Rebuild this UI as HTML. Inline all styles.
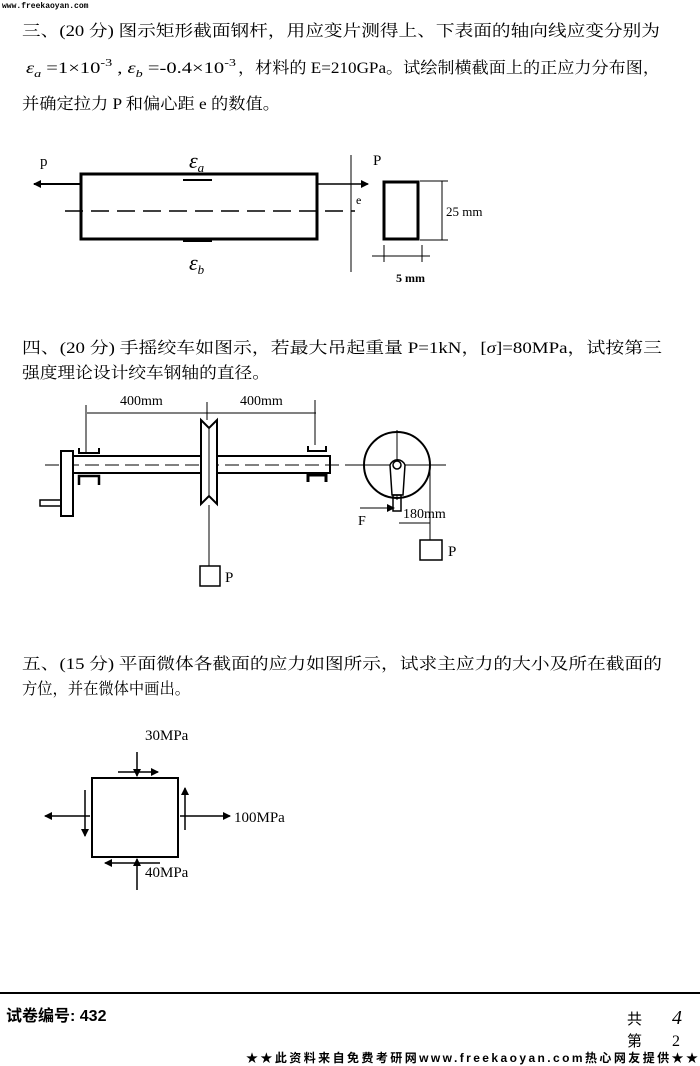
<!DOCTYPE html>
<html><head><meta charset="utf-8"><style>
body{margin:0;background:#fff;}
svg{display:block;font-family:"Liberation Serif","Noto Serif CJK SC",serif;}
.t{font-size:16px;fill:#000;}
</style></head><body>
<svg width="700" height="1066" viewBox="0 0 700 1066" xmlns="http://www.w3.org/2000/svg">
<defs>
<marker id="ar" markerWidth="8" markerHeight="8" refX="7" refY="4" orient="auto" markerUnits="userSpaceOnUse"><path d="M0,0 L8,4 L0,8 z" fill="#000"/></marker>
</defs>
<text x="2" y="8" font-size="8" font-family="Liberation Mono,monospace" font-weight="bold">www.freekaoyan.com</text>
<text class="t" x="22" y="36" textLength="638" lengthAdjust="spacingAndGlyphs">三、(20 分) 图示矩形截面钢杆，用应变片测得上、下表面的轴向线应变分别为</text>
<text class="t" x="26" y="73" font-size="17" textLength="210" lengthAdjust="spacingAndGlyphs"><tspan font-style="italic">ε</tspan><tspan font-size="11" dy="4" font-style="italic">a</tspan><tspan dy="-4"> =1×10</tspan><tspan font-size="11" dy="-7">-3</tspan><tspan dy="7"> , </tspan><tspan font-style="italic">ε</tspan><tspan font-size="11" dy="4" font-style="italic">b</tspan><tspan dy="-4"> =-0.4×10</tspan><tspan font-size="11" dy="-7">-3</tspan></text>
<text class="t" x="238" y="73" textLength="422" lengthAdjust="spacingAndGlyphs">，材料的 E=210GPa。试绘制横截面上的正应力分布图，</text>
<text class="t" x="22" y="109" textLength="258" lengthAdjust="spacingAndGlyphs">并确定拉力 P 和偏心距 e 的数值。</text>

<!-- beam -->
<rect x="81" y="174" width="236" height="65" fill="none" stroke="#000" stroke-width="3"/>
<line x1="65" y1="211" x2="355" y2="211" stroke="#000" stroke-width="1.5" stroke-dasharray="18,8"/>
<line x1="80" y1="184" x2="34" y2="184" stroke="#000" stroke-width="2" marker-end="url(#ar)"/>
<line x1="317" y1="184" x2="368" y2="184" stroke="#000" stroke-width="1.5" marker-end="url(#ar)"/>
<line x1="351" y1="155" x2="351" y2="272" stroke="#000" stroke-width="1"/>
<text x="40" y="166" font-size="15">p</text>
<text x="373" y="165" font-size="15">P</text>
<text x="356" y="204" font-size="12">e</text>
<line x1="183" y1="180" x2="212" y2="180" stroke="#000" stroke-width="2"/>
<line x1="183" y1="241" x2="212" y2="241" stroke="#000" stroke-width="2"/>
<text x="189" y="168" font-size="22" font-style="italic">ε<tspan font-size="13" dy="4">a</tspan></text>
<text x="189" y="270" font-size="22" font-style="italic">ε<tspan font-size="13" dy="4">b</tspan></text>
<rect x="384" y="182" width="34" height="57" fill="none" stroke="#000" stroke-width="3"/>
<line x1="442" y1="181" x2="442" y2="240" stroke="#000" stroke-width="1"/>
<line x1="420" y1="181" x2="448" y2="181" stroke="#000" stroke-width="1"/>
<line x1="420" y1="240" x2="448" y2="240" stroke="#000" stroke-width="1"/>
<text x="446" y="216" font-size="13">25 mm</text>
<line x1="372" y1="256" x2="430" y2="256" stroke="#000" stroke-width="1"/>
<line x1="384" y1="245" x2="384" y2="262" stroke="#000" stroke-width="1"/>
<line x1="422" y1="245" x2="422" y2="262" stroke="#000" stroke-width="1"/>
<text x="396" y="282" font-size="12" font-weight="bold">5 mm</text>

<text class="t" x="22" y="353" textLength="640" lengthAdjust="spacingAndGlyphs">四、(20 分) 手摇绞车如图示，若最大吊起重量 P=1kN，[<tspan font-style="italic">σ</tspan>]=80MPa，试按第三</text>
<text class="t" x="22" y="378" textLength="248" lengthAdjust="spacingAndGlyphs">强度理论设计绞车钢轴的直径。</text>

<!-- winch -->
<text x="120" y="405" font-size="14">400mm</text>
<text x="240" y="405" font-size="14">400mm</text>
<line x1="87" y1="413" x2="316" y2="413" stroke="#000" stroke-width="1"/>
<line x1="86" y1="405" x2="86" y2="452" stroke="#000" stroke-width="1"/>
<line x1="315" y1="400" x2="315" y2="445" stroke="#000" stroke-width="1"/>
<line x1="207" y1="402" x2="207" y2="420" stroke="#000" stroke-width="1"/>
<rect x="72" y="456" width="258" height="17" fill="none" stroke="#000" stroke-width="2"/>
<line x1="45" y1="465" x2="355" y2="465" stroke="#000" stroke-width="1" stroke-dasharray="14,6"/>
<rect x="61" y="451" width="12" height="65" fill="#fff" stroke="#000" stroke-width="2"/>
<rect x="40" y="500" width="21" height="6" fill="none" stroke="#000" stroke-width="1.5"/>
<path d="M79,448 v5 h20 v-5" fill="none" stroke="#000" stroke-width="2"/>
<path d="M79,485 v-9 h20 v9" fill="none" stroke="#000" stroke-width="2.5"/>
<path d="M308,446 v5 h18 v-5" fill="none" stroke="#000" stroke-width="2"/>
<path d="M308,482 v-7 h18 v7" fill="none" stroke="#000" stroke-width="3"/>
<path d="M201,420 L209,428 L217,420 L217,504 L209,496 L201,504 Z" fill="#fff" stroke="#000" stroke-width="2"/>
<line x1="209" y1="428" x2="209" y2="496" stroke="#000" stroke-width="1"/>
<line x1="209" y1="505" x2="209" y2="566" stroke="#000" stroke-width="1"/>
<rect x="200" y="566" width="20" height="20" fill="none" stroke="#000" stroke-width="1.5"/>
<text x="225" y="582" font-size="15">P</text>

<circle cx="397" cy="465" r="33" fill="none" stroke="#000" stroke-width="2"/>
<line x1="350" y1="465" x2="446" y2="465" stroke="#000" stroke-width="1"/>
<line x1="397" y1="430" x2="397" y2="500" stroke="#000" stroke-width="1"/>
<path d="M390,465 a8,8 0 0 1 15,0 L403,495 L392,495 Z" fill="#fff" stroke="#000" stroke-width="1.5"/>
<circle cx="397" cy="465" r="4" fill="none" stroke="#000" stroke-width="1.5"/>
<rect x="393" y="495" width="8" height="16" fill="none" stroke="#000" stroke-width="1.5"/>
<line x1="360" y1="508" x2="394" y2="508" stroke="#000" stroke-width="1" marker-end="url(#ar)"/>
<text x="358" y="525" font-size="14">F</text>
<text x="403" y="518" font-size="14">180mm</text>
<line x1="399" y1="523" x2="430" y2="523" stroke="#000" stroke-width="1"/>
<line x1="430" y1="465" x2="430" y2="540" stroke="#000" stroke-width="1"/>
<rect x="420" y="540" width="22" height="20" fill="none" stroke="#000" stroke-width="1.5"/>
<text x="448" y="556" font-size="15">P</text>

<text class="t" x="22" y="669" textLength="640" lengthAdjust="spacingAndGlyphs">五、(15 分) 平面微体各截面的应力如图所示，试求主应力的大小及所在截面的</text>
<text class="t" x="22" y="694" textLength="168" lengthAdjust="spacingAndGlyphs">方位，并在微体中画出。</text>

<!-- element -->
<rect x="92" y="778" width="86" height="79" fill="none" stroke="#000" stroke-width="2"/>
<text x="145" y="740" font-size="15">30MPa</text>
<line x1="137" y1="752" x2="137" y2="776" stroke="#000" stroke-width="1.5" marker-end="url(#ar)"/>
<line x1="137" y1="890" x2="137" y2="859" stroke="#000" stroke-width="1.5" marker-end="url(#ar)"/>
<line x1="90" y1="816" x2="45" y2="816" stroke="#000" stroke-width="1.5" marker-end="url(#ar)"/>
<line x1="180" y1="816" x2="230" y2="816" stroke="#000" stroke-width="1.5" marker-end="url(#ar)"/>
<text x="234" y="822" font-size="15">100MPa</text>
<line x1="185" y1="830" x2="185" y2="788" stroke="#000" stroke-width="1.5" marker-end="url(#ar)"/>
<line x1="85" y1="790" x2="85" y2="836" stroke="#000" stroke-width="1.5" marker-end="url(#ar)"/>
<line x1="118" y1="772" x2="158" y2="772" stroke="#000" stroke-width="1.5" marker-end="url(#ar)"/>
<line x1="160" y1="863" x2="105" y2="863" stroke="#000" stroke-width="1.5" marker-end="url(#ar)"/>
<text x="145" y="877" font-size="15">40MPa</text>

<line x1="0" y1="993" x2="700" y2="993" stroke="#000" stroke-width="2"/>
<text x="6" y="1021" font-size="16" font-weight="bold" font-family="Liberation Sans,Noto Sans CJK SC,sans-serif">试卷编号: 432</text>
<text x="627" y="1024" font-size="15" font-family="Liberation Sans,Noto Sans CJK SC,sans-serif">共</text>
<text x="672" y="1024" font-size="20" font-style="italic">4</text>
<text x="627" y="1046" font-size="15" font-family="Liberation Sans,Noto Sans CJK SC,sans-serif">第</text>
<text x="672" y="1046" font-size="16">2</text>
<text x="246" y="1062" font-size="12" font-weight="bold" font-family="Liberation Sans,Noto Sans CJK SC,sans-serif" textLength="452">★★此资料来自免费考研网www.freekaoyan.com热心网友提供★★</text>
</svg>
</body></html>
